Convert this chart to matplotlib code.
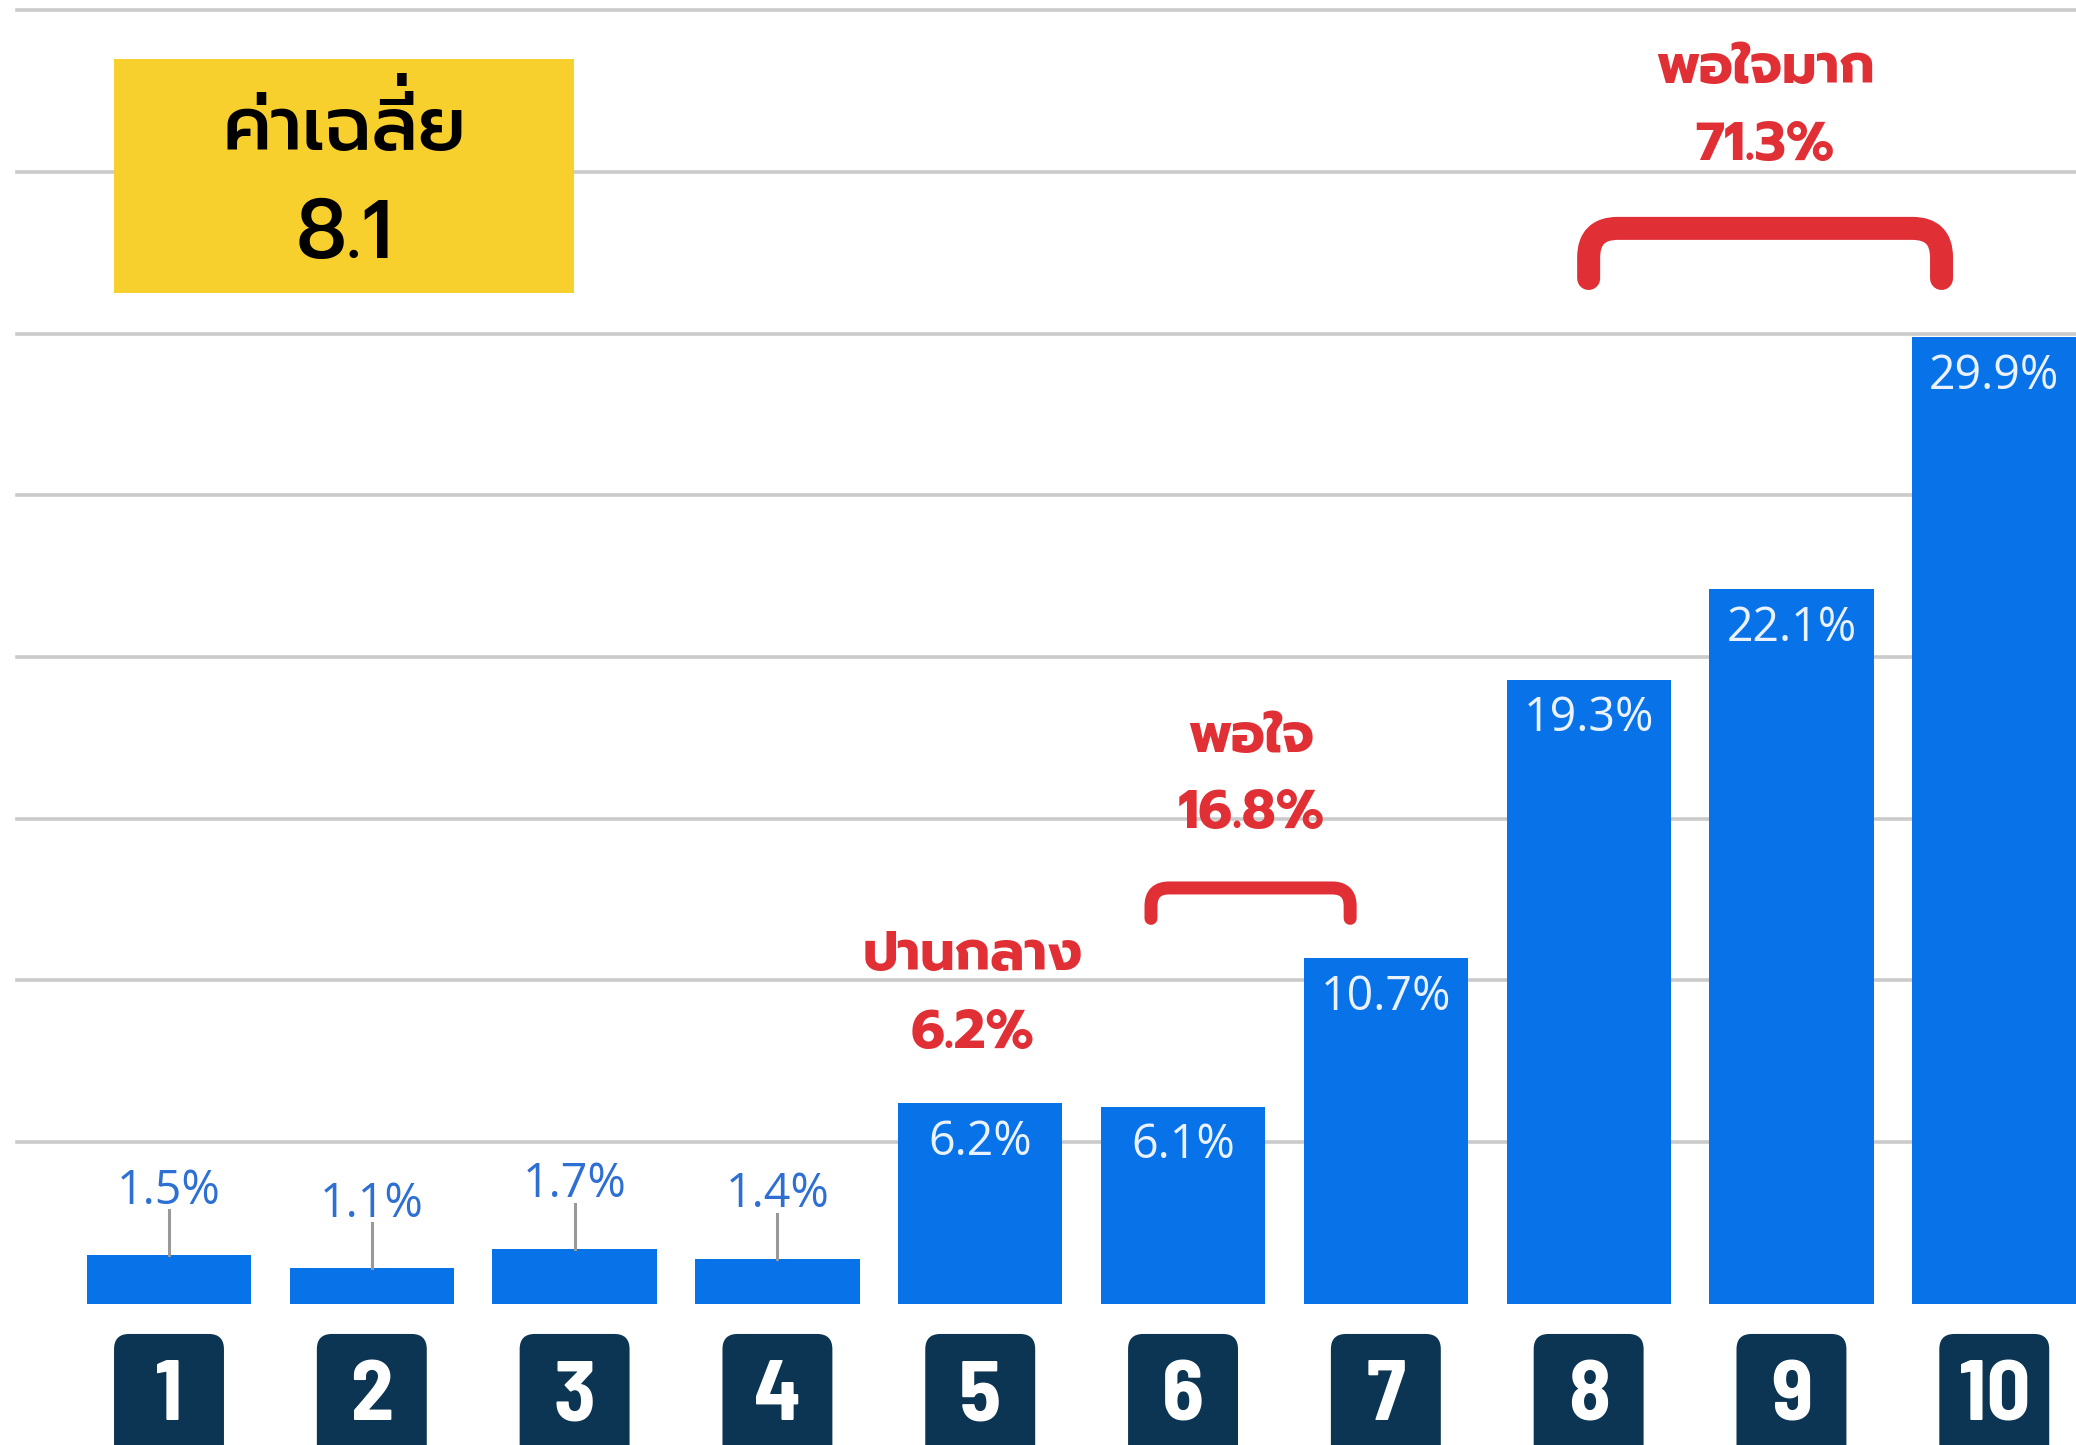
import matplotlib
matplotlib.use("Agg")
import matplotlib.pyplot as plt
from matplotlib.patches import FancyBboxPatch, PathPatch, Rectangle
from matplotlib.path import Path

# data
scores = [1, 2, 3, 4, 5, 6, 7, 8, 9, 10]
percent = [1.5, 1.1, 1.7, 1.4, 6.2, 6.1, 10.7, 19.3, 22.1, 29.9]
grid_vals = [5, 10, 15, 20, 25, 30, 35, 40]
avg_title = "ค่าเฉลี่ย"
avg_value = "8.1"
groups = ["ปานกลาง", "พอใจ", "พอใจมาก"]
group_pct = ["6.2%", "16.8%", "71.3%"]

BLUE = "#0872e9"
NAVY = "#0b3552"
RED = "#e03036"
YELLOW = "#f8d02e"
TH = ["Prompt", "Kanit", "DejaVu Sans"]

fig = plt.figure(figsize=(20.76, 14.45), dpi=100)
ax = fig.add_axes([0, 0, 1, 1])
ax.set_xlim(0.1667, 10.403)
ax.set_ylim(-4.36, 40.31)
ax.axis("off")

for g in grid_vals:
    ax.axhline(g, xmin=17 / 2076, xmax=1, color="#cacaca", lw=2.6, zorder=1)

ax.bar(scores, percent, width=0.81, color=BLUE, zorder=2)

for s, p in zip(scores, percent):
    lab = f"{p}%"
    if p > 5:
        ax.annotate(lab, (s, p), xytext=(0, -11), textcoords="offset points",
                    ha="center", va="top", fontsize=33.5, color="#eaf2ff",
                    family=["Open Sans", "DejaVu Sans"], zorder=3)
    else:
        ax.plot([s, s], [p, p + 1.39], color="#999999", lw=2.2, zorder=2)
        ax.text(s, p + 1.6, lab, ha="center", va="baseline", fontsize=33.5,
                color="#2d6fd2", family=["Open Sans", "DejaVu Sans"], zorder=3)
    # navy number box
    box = FancyBboxPatch((s - 0.271, -6), 0.542, 6 - 0.927,
                         boxstyle="round,pad=0,rounding_size=0.075",
                         mutation_aspect=6.27, fc=NAVY, ec="none", zorder=3)
    ax.add_patch(box)
    ax.text(s, -3.59, str(s), ha="center", va="baseline", fontsize=62,
            fontweight="bold", color="white",
            family=["Barlow Semi Condensed", "Barlow Condensed", "DejaVu Sans"], zorder=4)

# yellow average box
ax.add_patch(Rectangle((0.729, 31.25), 2.997 - 0.729, 38.49 - 31.25,
                       fc=YELLOW, ec="none", zorder=3))
# matplotlib has no thai shaping, so the stacked tone mark is placed by hand
base = avg_title[:-2] + avg_title[-1]
prefix = avg_title[:-3]
mark = avg_title[-2]
ykw = dict(fontsize=54, fontweight=500, color="black", family=TH, zorder=4)
t_main = ax.text(1.863, 35.67, base, ha="center", va="baseline", **ykw)
ax.text(1.863, 32.33, avg_value, ha="center", va="baseline",
        **{**ykw, "fontsize": 60})

r = fig.canvas.get_renderer()
bb = t_main.get_window_extent(r)
tmp = ax.text(0, 0, prefix, ha="left", va="baseline", **ykw)
bp = tmp.get_window_extent(r)
tmp.remove()
fpx = 54 * 100 / 72
mx = bb.x0 + bp.width - 0.09 * fpx
my = ax.transData.transform((0, 35.67))[1] + 0.25 * fpx
mx, my = ax.transData.inverted().transform((mx, my))
ax.text(mx, my, mark, ha="center", va="baseline", **ykw)


def bracket(x0, x1, ytop, ybot, r_px, lw_px):
    rx = r_px / 202.8
    ry = r_px / 32.35
    verts = [(x0, ybot), (x0, ytop - ry), (x0, ytop), (x0 + rx, ytop),
             (x1 - rx, ytop), (x1, ytop), (x1, ytop - ry), (x1, ybot)]
    codes = [Path.MOVETO, Path.LINETO, Path.CURVE3, Path.CURVE3,
             Path.LINETO, Path.CURVE3, Path.CURVE3, Path.LINETO]
    ax.add_patch(PathPatch(Path(verts, codes), fill=False, ec=RED,
                           lw=lw_px * 0.72, capstyle="round", joinstyle="round", zorder=4))


bracket(5.842, 6.824, 12.86, 11.92, 18, 13)
bracket(8.0, 9.74, 33.25, 31.70, 29, 23)

# red group labels
label_x = [4.964, 6.335, 8.87]
name_y = [10.32, 17.06, 37.75]
pct_y = [7.91, 14.71, 35.36]
for x, n, p, ny, py in zip(label_x, groups, group_pct, name_y, pct_y):
    ax.text(x, ny, n, ha="center", va="baseline", fontsize=39, fontweight=700,
            color=RED, family=TH, zorder=4)
    ax.text(x, py, p, ha="center", va="baseline", fontsize=39, fontweight=700,
            color=RED, family=TH, zorder=4)

fig.savefig("out.png", dpi=100)
